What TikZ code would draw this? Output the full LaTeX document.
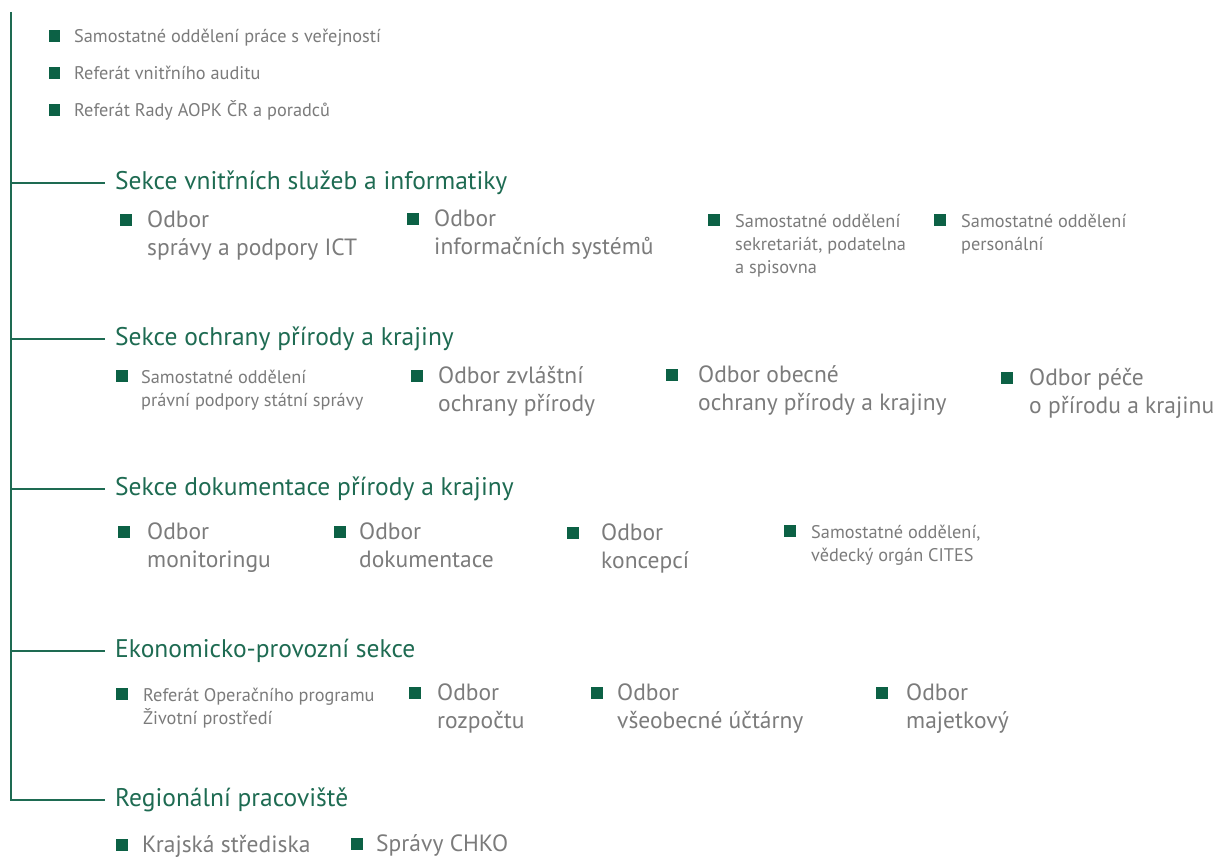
\documentclass[tikz,border=0pt]{standalone}
\usepackage{fontspec}
\setmainfont{PT Sans}
\usetikzlibrary{positioning}
\definecolor{aopkgreen}{HTML}{1E6B52}
\definecolor{bulletgreen}{HTML}{0C6145}
\definecolor{itemgrey}{HTML}{7B7B7B}

\begin{document}
\begin{tikzpicture}[x=1pt,y=-1pt]
	\tikzset{trunk/.style={draw=aopkgreen, line width=1.8pt},
		sekce/.style={anchor=west, inner xsep=10pt, inner ysep=0pt, text height=12pt, text depth=0pt, text=aopkgreen, font=\fontsize{25.5}{30}\selectfont},
		bullet/.style={fill=bulletgreen, inner sep=0pt, minimum size=11.5pt},
		small/.style={anchor=base west, inner sep=0pt, text=itemgrey, font=\fontsize{18.3}{23}\selectfont},
		big/.style={anchor=base west, inner sep=0pt, text=itemgrey, font=\fontsize{23.5}{28}\selectfont}}
	\def \lines #1{\begin{tabular}[t]{@{}l@{}}#1\end{tabular}}
	\useasboundingbox (0,0) rectangle (1217,856);
	
	% head office items
	\coordinate (top) at (11,12);
	\foreach \txt [count=\i] in {Samostatné oddělení práce s veřejností, Referát vnitřního auditu, Referát Rady AOPK ČR a poradců}{
		\node[bullet] (h\i) at (54.5,{36+(\i-1)*37}) {};
		\node[small] (ht\i) at (74,{43+(\i-1)*37}) {\txt};
	}
	
	% sections
	\foreach \y/\txt [count=\i] in {183/Sekce vnitřních služeb a informatiky, 339/Sekce ochrany přírody a krajiny, 489/Sekce dokumentace přírody a krajiny, 651/Ekonomicko-provozní sekce, 800/Regionální pracoviště}{
		\node[sekce] (s\i) at (105,\y) {\txt};
	}
	\draw[trunk] (top) |- (s5.west);
	\foreach \i in {1,...,4}
		\draw[trunk] (top |- s\i.west) -- (s\i.west);
	
	% units of the sections
	\foreach \bx/\by/\tx/\sty/\txt [count=\n] in {
		126/220/147/big/{Odbor\\správy a podpory ICT},
		413/219/434/big/{Odbor\\informačních systémů},
		714/220/735/small/{Samostatné oddělení\\sekretariát, podatelna\\a spisovna},
		940/220/961/small/{Samostatné oddělení\\personální},
		122/376/141/small/{Samostatné oddělení\\právní podpory státní správy},
		417/376/438/big/{Odbor zvláštní\\ochrany přírody},
		672/375/698/big/{Odbor obecné\\ochrany přírody a krajiny},
		1007/378/1029/big/{Odbor péče\\o přírodu a krajinu},
		124/532/147/big/{Odbor\\monitoringu},
		340/532/359/big/{Odbor\\dokumentace},
		573/533/601/big/{Odbor\\koncepcí},
		790/531/811/small/{Samostatné oddělení,\\vědecký orgán CITES},
		122/694/143/small/{Referát Operačního programu\\Životní prostředí},
		415/693/437/big/{Odbor\\rozpočtu},
		597/693/617/big/{Odbor\\všeobecné účtárny},
		882/693/906/big/{Odbor\\majetkový},
		122/845/142/big/{Krajská střediska},
		357/844/376/big/{Správy CHKO}}{
		\node[bullet] (b\n) at (\bx,\by) {};
		\node[\sty] (u\n) at (\tx,{\by+7}) {\lines{\txt}};
	}
\end{tikzpicture}
\end{document}
